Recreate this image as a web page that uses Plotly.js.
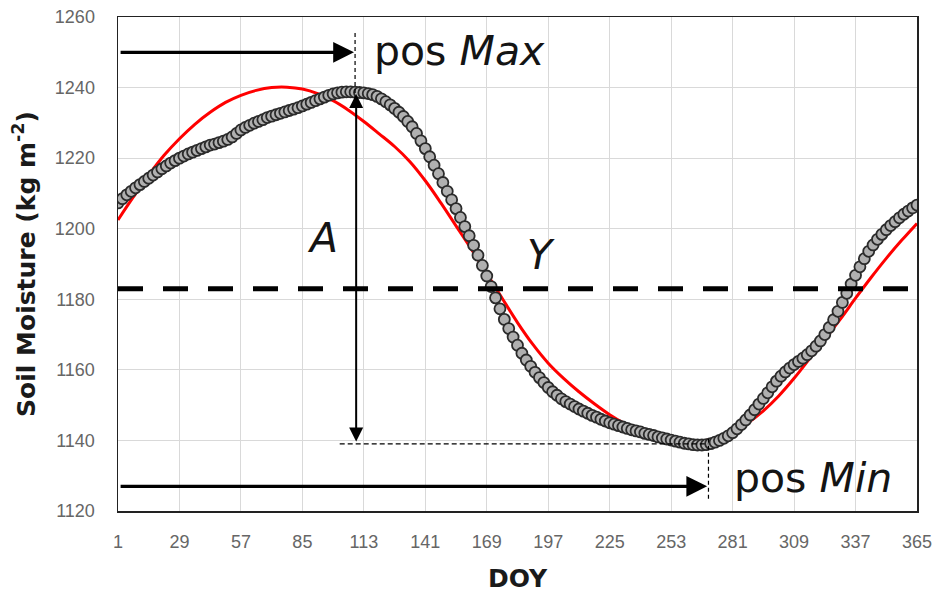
<!DOCTYPE html>
<html>
<head>
<meta charset="utf-8">
<script src="https://cdn.plot.ly/plotly-3.0.1.min.js"></script>
<style>
html,body{margin:0;padding:0;background:#fff;}
#chart{width:933px;height:595px;}
</style>
</head>
<body>
<div id="chart"></div>
<script>
// Observed soil moisture (every 2nd day of year)
const obsDoy = [1,3,5,7,9,11,13,15,17,19,21,23,25,27,29,31,33,35,37,39,41,43,45,47,49,51,53,55,57,59,61,63,65,67,69,71,73,75,77,79,81,83,85,87,89,91,93,95,97,99,101,103,105,107,109,111,113,115,117,119,121,123,125,127,129,131,133,135,137,139,141,143,145,147,149,151,153,155,157,159,161,163,165,167,169,171,173,175,177,179,181,183,185,187,189,191,193,195,197,199,201,203,205,207,209,211,213,215,217,219,221,223,225,227,229,231,233,235,237,239,241,243,245,247,249,251,253,255,257,259,261,263,265,267,269,271,273,275,277,279,281,283,285,287,289,291,293,295,297,299,301,303,305,307,309,311,313,315,317,319,321,323,325,327,329,331,333,335,337,339,341,343,345,347,349,351,353,355,357,359,361,363,365];
const obsVal = [1207.3,1208.5,1209.6,1210.6,1211.6,1212.5,1213.4,1214.3,1215.2,1216.1,1217.0,1217.8,1218.6,1219.3,1220.0,1220.6,1221.2,1221.7,1222.2,1222.7,1223.2,1223.7,1224.0,1224.4,1224.8,1225.3,1226.0,1227.0,1228.0,1228.7,1229.3,1229.9,1230.4,1230.9,1231.5,1231.9,1232.3,1232.7,1233.1,1233.5,1233.9,1234.3,1234.8,1235.3,1235.8,1236.3,1236.8,1237.3,1237.8,1238.2,1238.5,1238.7,1238.8,1238.8,1238.7,1238.6,1238.5,1238.3,1238.0,1237.5,1236.8,1236.0,1235.1,1234.1,1233.0,1231.8,1230.4,1228.9,1227.0,1224.9,1222.7,1220.4,1218.0,1215.6,1213.1,1210.6,1208.2,1205.7,1203.2,1200.6,1198.0,1195.3,1192.5,1189.6,1186.6,1183.6,1180.4,1177.3,1174.3,1171.7,1169.3,1167.0,1164.7,1162.8,1161.0,1159.3,1157.8,1156.4,1155.0,1153.8,1152.8,1151.8,1151.0,1150.3,1149.6,1148.9,1148.3,1147.7,1147.1,1146.6,1146.0,1145.5,1145.0,1144.6,1144.2,1143.8,1143.4,1143.0,1142.7,1142.4,1142.0,1141.7,1141.4,1141.0,1140.7,1140.4,1140.1,1139.8,1139.5,1139.2,1139.0,1138.8,1138.7,1138.7,1138.8,1139.1,1139.5,1140.0,1140.6,1141.3,1142.2,1143.3,1144.5,1145.8,1147.2,1148.7,1150.3,1151.9,1153.5,1155.2,1156.8,1158.2,1159.4,1160.5,1161.5,1162.4,1163.3,1164.3,1165.4,1166.7,1168.2,1170.0,1172.0,1174.2,1176.6,1179.1,1181.7,1184.3,1186.8,1189.2,1191.5,1193.6,1195.4,1197.0,1198.4,1199.7,1200.9,1202.0,1203.1,1204.1,1205.0,1205.9,1206.7];

// Fitted curve (red)
const fitDoy = [1,8,15,22,29,36,43,50,57,64,71,78,85,92,99,106,113,120,127,134,141,148,155,162,169,176,183,190,197,204,211,218,225,232,239,246,253,260,267,274,281,288,295,302,309,316,323,330,337,344,351,358,365];
const fitVal = [1202.5,1209.0,1215.2,1220.8,1225.5,1229.6,1233.0,1235.8,1237.8,1239.2,1240.0,1240.1,1239.6,1238.3,1236.3,1233.6,1230.4,1226.9,1223.3,1219.0,1213.6,1207.4,1200.8,1194.2,1187.3,1180.3,1173.4,1167.2,1161.9,1157.6,1153.8,1150.4,1147.3,1144.7,1142.6,1141.0,1140.0,1139.6,1139.8,1140.7,1142.4,1145.0,1148.4,1152.6,1157.6,1163.1,1168.7,1174.3,1180.3,1186.1,1191.6,1196.7,1201.5];

// Axis ticks
const xTicks = [1,29,57,85,113,141,169,197,225,253,281,309,337,365];
const yTicks = [1120,1140,1160,1180,1200,1220,1240,1260];

// Annotation values
const meanY = 1183;
const maxDoy = 109.5, maxVal = 1238.5;
const minDoy = 270, minVal = 1139;
const topArrowY = 1250, botArrowY = 1127;

const traces = [
  {x: fitDoy, y: fitVal, mode: 'lines', type: 'scatter',
   line: {color: '#ff0000', width: 3, shape: 'spline', smoothing: 1.0}, hoverinfo: 'skip'},
  {x: obsDoy, y: obsVal, mode: 'markers', type: 'scatter',
   marker: {symbol: 'circle', size: 11, color: '#b0b0b0', line: {color: '#2b2b2b', width: 1.8}}}
];

const txtFont = {family: 'DejaVu Sans, Verdana, sans-serif', size: 41, color: '#141414'};

const layout = {
  width: 933, height: 595,
  margin: {l: 118, r: 16, t: 17, b: 84},
  paper_bgcolor: '#ffffff', plot_bgcolor: '#ffffff',
  showlegend: false,
  xaxis: {
    range: [1, 365], tickvals: xTicks, ticktext: xTicks.map(String),
    showgrid: true, gridcolor: '#d9d9d9', gridwidth: 1,
    zeroline: false, showline: true, linecolor: '#222', linewidth: 1.5, mirror: true,
    ticks: '', ticklabelstandoff: 14,
    tickfont: {family: 'Liberation Sans, Arial, sans-serif', size: 18, color: '#666'},
    title: {text: 'DOY', standoff: 18, font: {family: 'DejaVu Sans, sans-serif', size: 25, color: '#1a1a1a', weight: 'bold'}}
  },
  yaxis: {
    range: [1120, 1260], tickvals: yTicks, ticktext: yTicks.map(String),
    showgrid: true, gridcolor: '#d9d9d9', gridwidth: 1,
    zeroline: false, showline: true, linecolor: '#222', linewidth: 1.5, mirror: true,
    ticks: '', ticklabelstandoff: 18,
    tickfont: {family: 'Liberation Sans, Arial, sans-serif', size: 18, color: '#666'},
    title: {text: 'Soil Moisture (kg m<sup>-2</sup>)', standoff: 12, font: {family: 'DejaVu Sans, sans-serif', size: 25, color: '#1a1a1a', weight: 'bold'}}
  },
  shapes: [
    {type: 'line', xref: 'paper', yref: 'y', x0: 0, x1: 1, y0: meanY, y1: meanY,
     line: {color: '#000', width: 5, dash: '25px,20px'}},
    {type: 'line', xref: 'x', yref: 'y', x0: maxDoy - 0.5, x1: maxDoy - 0.5, y0: 1255.5, y1: 1237,
     line: {color: '#000', width: 1.2, dash: '4px,3px'}},
    {type: 'line', xref: 'x', yref: 'y', x0: 102, x1: minDoy, y0: minVal, y1: minVal,
     line: {color: '#000', width: 1.2, dash: '5px,3px'}},
    {type: 'line', xref: 'x', yref: 'y', x0: minDoy, x1: minDoy, y0: 1140.5, y1: 1123,
     line: {color: '#000', width: 1.2, dash: '4px,3px'}}
  ],
  annotations: [
    {x: maxDoy - 1, y: topArrowY, ax: 1.5, ay: topArrowY, xref: 'x', yref: 'y', axref: 'x', ayref: 'y',
     text: '', showarrow: true, arrowhead: 2, arrowsize: 1.3, arrowwidth: 3.2, arrowcolor: '#000'},
    {x: maxDoy, y: maxVal - 0.3, ax: maxDoy, ay: minVal + 0.3, xref: 'x', yref: 'y', axref: 'x', ayref: 'y',
     text: '', showarrow: true, arrowhead: 2, startarrowhead: 2, arrowside: 'end+start',
     arrowsize: 1.4, startarrowsize: 1.4, arrowwidth: 2, arrowcolor: '#000'},
    {x: minDoy - 0.6, y: botArrowY, ax: 1.5, ay: botArrowY, xref: 'x', yref: 'y', axref: 'x', ayref: 'y',
     text: '', showarrow: true, arrowhead: 2, arrowsize: 1.3, arrowwidth: 3.2, arrowcolor: '#000'},
    {x: 116.5, y: 1250.5, xref: 'x', yref: 'y', xanchor: 'left', yanchor: 'middle',
     text: 'pos <i>Max</i>', showarrow: false, font: txtFont},
    {x: 94, y: 1197.5, xref: 'x', yref: 'y', xanchor: 'center', yanchor: 'middle',
     text: '<i>A</i>', showarrow: false, font: txtFont},
    {x: 193.5, y: 1192.5, xref: 'x', yref: 'y', xanchor: 'center', yanchor: 'middle',
     text: '<i>Y</i>', showarrow: false, font: txtFont},
    {x: 280.5, y: 1129.3, xref: 'x', yref: 'y', xanchor: 'left', yanchor: 'middle',
     text: 'pos <i>Min</i>', showarrow: false, font: txtFont}
  ]
};

Plotly.newPlot('chart', traces, layout, {staticPlot: true, displayModeBar: false});
</script>
</body>
</html>
